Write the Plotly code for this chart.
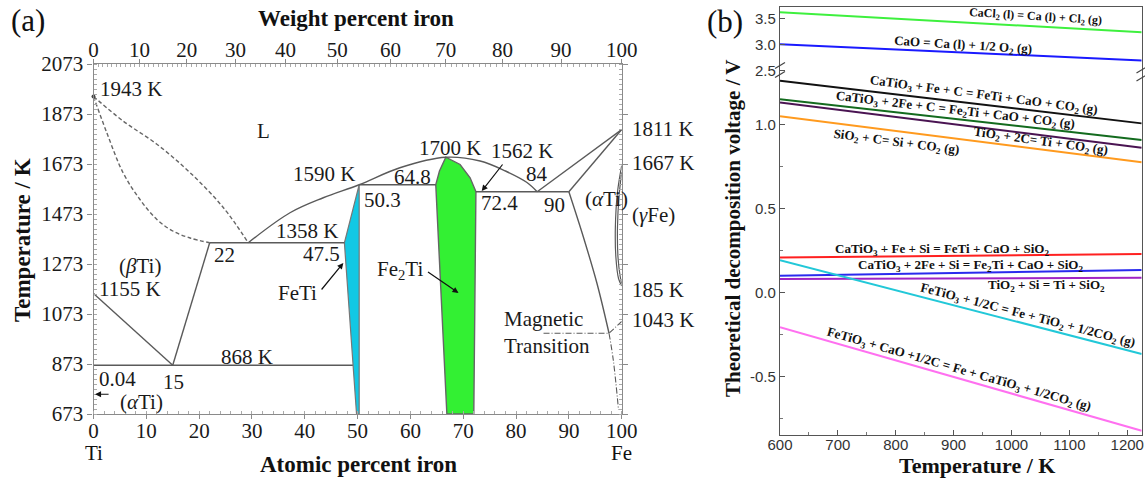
import plotly.graph_objects as go

# ---------------- Panel (a) data: Fe-Ti phase diagram (at.% Fe, K) ----------------
liq_ti_x = [0, 5.6, 12.0, 18.3, 24.6, 29.3]
liq_ti_T = [1943, 1845, 1752, 1638, 1498, 1358]
sol_ti_x = [0, 2.5, 5.6, 8.8, 12.0, 15.1, 18.3, 22]
sol_ti_T = [1943, 1799, 1638, 1531, 1451, 1404, 1377, 1358]
liq_arc_x = [29.3, 37.2, 43.5, 50.3, 58.0, 66.7, 73.2, 78.0, 82.0, 84.0]
liq_arc_T = [1358, 1478, 1538, 1590, 1658, 1700, 1685, 1645, 1600, 1562]
feti_x = [50.3, 47.5, 49.8, 50.3, 50.3]
feti_T = [1590, 1358, 673, 673, 1590]
fe2ti_x = [64.8, 65.5, 66.7, 69.4, 71.3, 72.4, 72.0, 66.9, 64.8]
fe2ti_T = [1590, 1645, 1700, 1671, 1618, 1562, 673, 673, 1590]
seg_x = [[22, 47.5], [50.3, 64.8], [72.4, 90], [0, 49.1], [22, 15], [0, 15], [84, 100], [90, 100]]
seg_T = [[1358, 1358], [1590, 1590], [1562, 1562], [868, 868], [1358, 868], [1155, 868], [1562, 1811], [1562, 1811]]
afe_x = [90, 92.7, 95.3, 97.6]
afe_T = [1562, 1384, 1197, 996]
afe_low_x = [97.6, 98.4, 99.4]
afe_low_T = [996, 890, 689]
mag_x = [85.2, 97.6, 100]
mag_T = [996, 996, 1043]
gloop1_x = [100, 99.2, 98.8, 98.9, 99.4, 100]
gloop1_T = [1667, 1560, 1420, 1300, 1215, 1185]
gloop2_x = [100, 99.5, 99.2, 99.3, 99.7, 100]
gloop2_T = [1640, 1545, 1420, 1300, 1225, 1195]
ti_melt_x = [0]
ti_melt_T = [1943]

at_ticks = list(range(0, 101, 10))
T_ticks = list(range(673, 2074, 200))
wt_ticks = list(range(0, 101, 10))
wt_minor = list(range(1, 100))
M_FE, M_TI = 55.845, 47.867


def wt_to_at(w):
    if w >= 100:
        return 100.0
    nfe = w / M_FE
    nti = (100 - w) / M_TI
    return 100 * nfe / (nfe + nti)

# ---------------- Panel (b) data: decomposition voltages ----------------
temp_b = [600, 1225]
v_cacl2 = [3.615, 3.23]
v_cao = [3.00, 2.69]
v_feti_c = [1.26, 1.006]
v_fe2ti_c = [1.15, 0.907]
v_tio2_c = [1.131, 0.861]
v_sio2_c = [1.048, 0.774]
v_feti_si = [0.208, 0.228]
v_fe2ti_si = [0.099, 0.133]
v_tio2_si = [0.079, 0.087]
v_fetio3_c = [0.192, -0.367]
v_fetio3_cao = [-0.208, -0.824]

W, H = 1145, 479
def PX(p): return p / W
def PY(p): return 1 - p / H

SERIF = "Liberation Serif"
SANS = "Liberation Sans"
LC = "#5a5a5a"

fig = go.Figure()

def add_a(x, y, **kw):
    line = dict(color=kw.pop("color", LC), width=kw.pop("width", 1.4), dash=kw.pop("dash", "solid"),
                shape=kw.pop("shape", "linear"))
    fig.add_trace(go.Scatter(x=x, y=y, mode="lines", line=line, xaxis="x", yaxis="y",
                             showlegend=False, hoverinfo="skip", **kw))

add_a(feti_x, feti_T, fill="toself", fillcolor="#12c8e4", color="#777", width=1.2)
add_a(fe2ti_x, fe2ti_T, fill="toself", fillcolor="#33f033", color="#666", width=1.4)
add_a(liq_ti_x, liq_ti_T, dash="4px,2.5px", shape="spline", color="#666", width=1.4)
add_a(sol_ti_x, sol_ti_T, dash="4px,2.5px", shape="spline", color="#666", width=1.4)
add_a(liq_arc_x, liq_arc_T, shape="spline")
for sx, sT in zip(seg_x, seg_T):
    add_a(sx, sT)
add_a(afe_x, afe_T, shape="spline")
add_a(afe_low_x, afe_low_T, shape="spline", dash="6px,2px,1px,2px", width=1.1)
add_a(mag_x, mag_T, dash="6px,2px,1px,2px", width=1.1)
add_a(gloop1_x, gloop1_T, shape="spline", width=1.2)
add_a(gloop2_x, gloop2_T, shape="spline", width=1.2)
fig.add_trace(go.Scatter(x=ti_melt_x, y=ti_melt_T, mode="markers", marker=dict(color="#444", size=4),
                         xaxis="x", yaxis="y", showlegend=False, hoverinfo="skip", cliponaxis=False))

# invisible helpers so the top axes are drawn
for ax_name in ("x2", "x5"):
    fig.add_trace(go.Scatter(x=[50], y=[1000], mode="markers", marker=dict(opacity=0, size=1),
                             xaxis=ax_name, yaxis="y", showlegend=False, hoverinfo="skip"))

# ---- panel (b) lines
def add_b(y, color, upper=False):
    fig.add_trace(go.Scatter(x=temp_b, y=y, mode="lines", line=dict(color=color, width=2),
                             xaxis="x4" if upper else "x3", yaxis="y4" if upper else "y3",
                             showlegend=False, hoverinfo="skip"))

add_b(v_cacl2, "#3ef03e", True)
add_b(v_cao, "#1a1aff", True)
add_b(v_feti_c, "#111111")
add_b(v_fe2ti_c, "#136b1e")
add_b(v_tio2_c, "#4a1452")
add_b(v_sio2_c, "#ff9a1e")
add_b(v_feti_si, "#ff2020")
add_b(v_fe2ti_si, "#2a2aee")
add_b(v_tio2_si, "#a024c4")
add_b(v_fetio3_c, "#22c8d8")
add_b(v_fetio3_cao, "#ff70f0")

ann = []
TF = dict(family=SERIF, size=21, color="#1a1a1a")

def ta(text, x, y, xa="center", **kw):
    d = dict(text=text, x=x, y=y, xref="x", yref="y", xanchor=xa, yanchor="middle",
             showarrow=False, font=TF)
    d.update(kw)
    ann.append(d)

ta("1943 K", 0.9, 1972, "left")
ta("L", 32.1, 1805)
ta("1590 K", 49.8, 1633, "right")
ta("50.3", 50.8, 1528, "left")
ta("1358 K", 46.7, 1406, "right")
ta("47.5", 47.0, 1315, "right")
ta("22", 22.4, 1311, "left")
ta("(<i>β</i>Ti)", 8.8, 1264)
ta("1155 K", 0.6, 1174, "left")
ta("868 K", 29.0, 902)
ta("0.04", 4.5, 813)
ta("15", 15.1, 802)
ta("(<i>α</i>Ti)", 9.0, 722)
ta("FeTi", 38.7, 1158)
ta("Fe<sub>2</sub>Ti", 58.0, 1250)
ta("1700 K", 67.5, 1738)
ta("64.8", 64.3, 1621, "right")
ta("1562 K", 81.1, 1725)
ta("84", 83.9, 1635)
ta("72.4", 72.9, 1518, "left")
ta("90", 89.6, 1511, "right")
ta("(<i>α</i>Ti)", 97.2, 1535)
ta("Magnetic<br>Transition", 77.3, 998, "left", align="left")
# labels outside the right edge of panel (a)
for txt, T in [("1811 K", 1812), ("1667 K", 1676), ("(<i>γ</i>Fe)", 1471), ("185 K", 1170), ("1043 K", 1050)]:
    ta(txt, 100, T, "left", xshift=8)

# arrows in panel (a)
def arrow(x, y, ax, ay):
    ann.append(dict(text="", x=x, y=y, xref="x", yref="y", ax=ax, ay=ay, showarrow=True,
                    arrowhead=2, arrowsize=1, arrowwidth=1.2, arrowcolor="#111", standoff=0))

arrow(47.3, 1277, -23, 28)
arrow(69.1, 1157, -32, -22)
arrow(73.5, 1565, 22, -28)
arrow(0.3, 752, 15, 0)

# paper-positioned texts
def pa(text, xp, yp, size=21, bold=False, angle=0, family=SERIF):
    ann.append(dict(text=f"<b>{text}</b>" if bold else text, x=PX(xp), y=PY(yp), xref="paper",
                    yref="paper", showarrow=False, xanchor="center", yanchor="middle",
                    textangle=angle, font=dict(family=family, size=size, color="#111")))

pa("(a)", 28, 21, size=31)
pa("(b)", 725, 22, size=31)
pa("Weight percent iron", 356, 18, size=23, bold=True)
pa("Atomic percent iron", 358, 464, size=23, bold=True)
pa("Temperature / K", 22, 240, size=23, bold=True, angle=-90)
pa("Ti", 94, 453, size=21)
pa("Fe", 621, 453, size=21)
pa("Temperature / K", 977, 465, size=22, bold=True)
pa("Theoretical decomposition voltage / V", 733, 228, size=21, bold=True, angle=-90)

# panel (b) reaction labels
def tb(text, x, y, ang, upper=False, size=13):
    ann.append(dict(text=f"<b>{text}</b>", x=x, y=y, xref="x4" if upper else "x3",
                    yref="y4" if upper else "y3", showarrow=False, textangle=ang,
                    font=dict(family=SERIF, size=size, color="#111"),
                    xanchor="center", yanchor="middle"))

tb("CaCl<sub>2</sub> (l) = Ca (l) + Cl<sub>2</sub> (g)", 1042, 3.53, 3.5, True, 12)
tb("CaO = Ca (l) + 1/2 O<sub>2</sub> (g)", 917, 2.975, 3.5, True)
tb("CaTiO<sub>3</sub> + Fe + C = FeTi + CaO + CO<sub>2</sub> (g)", 952, 1.17, 7.5)
tb("CaTiO<sub>3</sub> + 2Fe + C = Fe<sub>2</sub>Ti + CaO + CO<sub>2</sub> (g)", 903, 1.081, 6.8)
tb("TiO<sub>2</sub> + 2C= Ti + CO<sub>2</sub> (g)", 1050, 0.896, 8)
tb("SiO<sub>2</sub> + C= Si + CO<sub>2</sub> (g)", 802, 0.89, 7.5)
tb("CaTiO<sub>3</sub> + Fe + Si = FeTi + CaO + SiO<sub>2</sub>", 880, 0.258, 0)
tb("CaTiO<sub>3</sub> + 2Fe + Si = Fe<sub>2</sub>Ti + CaO + SiO<sub>2</sub>", 930, 0.1625, 0)
tb("TiO<sub>2</sub> + Si = Ti + SiO<sub>2</sub>", 1060, 0.039, 0)
tb("FeTiO<sub>3</sub> + 1/2C = Fe + TiO<sub>2</sub> + 1/2CO<sub>2</sub> (g)", 1027, -0.139, 14.6)
tb("FeTiO<sub>3</sub> + CaO +1/2C = Fe + CaTiO<sub>3</sub> + 1/2CO<sub>2</sub> (g)", 908.6, -0.457, 16)

# break marks
shapes = []
for (xc, yc) in [(780, 65.5), (780, 74.5), (1141.5, 70), (1141.5, 78)]:
    shapes.append(dict(type="line", xref="paper", yref="paper", x0=PX(xc - 5), y0=PY(yc + 3),
                       x1=PX(xc + 5), y1=PY(yc - 3), line=dict(color="#444", width=1.2)))

A_X = [PX(93.5), PX(621.7)]
A_Y = [PY(414), PY(64)]
B_X = [PX(780), PX(1141.7)]
B_YL = [PY(435), PY(76)]
B_YU = [PY(76), PY(6.7)]

axc = "#8a8a8a"
tickfont_a = dict(family=SERIF, size=21, color="#1a1a1a")
tickfont_b = dict(family=SANS, size=15, color="#333")
common = dict(showgrid=False, zeroline=False, automargin=False)

fig.update_layout(
    template="none",
    width=W, height=H, margin=dict(l=0, r=0, t=0, b=0, autoexpand=False),
    paper_bgcolor="white", plot_bgcolor="white", showlegend=False,
    annotations=ann, shapes=shapes,
    xaxis=dict(domain=A_X, range=[0, 100], anchor="y", tickmode="array", tickvals=at_ticks,
               ticks="outside", ticklen=4, tickcolor=axc, showline=True, linecolor=axc, linewidth=1.2,
               tickfont=tickfont_a, ticklabelstandoff=-6,
               minor=dict(ticks="inside", ticklen=3, tickcolor="#aaa", dtick=2, tick0=0), **common),
    xaxis2=dict(overlaying="x", side="top", anchor="y", range=[0, 100], tickmode="array",
                tickvals=[wt_to_at(w) for w in wt_ticks], ticktext=[str(w) for w in wt_ticks],
                ticks="outside", ticklen=4, tickcolor=axc, showline=True, linecolor=axc, linewidth=1.2,
                tickfont=tickfont_a, showticklabels=True, ticklabelstandoff=-6, **common),
    xaxis5=dict(overlaying="x", side="top", anchor="y", range=[0, 100], tickmode="array",
                tickvals=[wt_to_at(w) for w in wt_minor], ticks="inside", ticklen=3,
                tickcolor="#aaa", showticklabels=False, showline=False, **common),
    yaxis=dict(domain=A_Y, range=[673, 2073], anchor="x", tickmode="array", tickvals=T_ticks,
               ticks="outside", ticklen=5, tickcolor=axc, showline=True, linecolor=axc, linewidth=1.2,
               mirror="ticks", tickfont=tickfont_a,
               minor=dict(ticks="inside", ticklen=3, tickcolor="#aaa", dtick=20, tick0=673), **common),
    xaxis3=dict(domain=B_X, range=[600, 1225], anchor="y3", tick0=600, dtick=100, ticks="inside",
                ticklen=5, tickcolor="#555", showline=True, linecolor="#555", linewidth=1.2,
                tickfont=tickfont_b, ticklabelstandoff=-4,
                minor=dict(ticks="inside", ticklen=3, tickcolor="#777", dtick=50, tick0=600), **common),
    xaxis4=dict(domain=B_X, range=[600, 1225], anchor="y4", side="top", showticklabels=False,
                ticks="", showline=True, linecolor="#555", linewidth=1.2, **common),
    yaxis3=dict(domain=B_YL, range=[-0.849, 1.288], anchor="x3", tickmode="array",
                tickvals=[-0.5, 0, 0.5, 1.0], ticktext=["-0.5", "0.0", "0.5", "1.0"], ticks="inside",
                ticklen=5, tickcolor="#555", showline=True, linecolor="#555", linewidth=1.2, mirror=True,
                tickfont=tickfont_b,
                minor=dict(ticks="inside", ticklen=3, tickcolor="#777", tickmode="array",
                           tickvals=[-0.75, -0.25, 0.25, 0.75]), **common),
    yaxis4=dict(domain=B_YU, range=[2.39, 3.723], anchor="x4", tickmode="array", tickvals=[2.5, 3.0, 3.5],
                ticktext=["2.5", "3.0", "3.5"], ticks="inside", ticklen=5, tickcolor="#555",
                showline=True, linecolor="#555", linewidth=1.2, mirror=True, tickfont=tickfont_b,
                **common),
)

fig.write_html("out.html")
